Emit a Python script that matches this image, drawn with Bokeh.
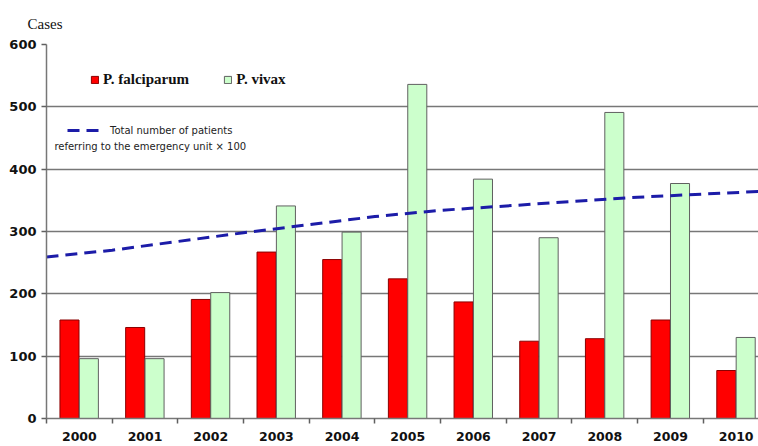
import numpy as np
from bokeh.plotting import figure
from bokeh.models import Range1d, FixedTicker, Legend, LegendItem, Label
from bokeh.embed import file_html
from bokeh.resources import INLINE

years = ["2000", "2001", "2002", "2003", "2004", "2005", "2006", "2007", "2008", "2009", "2010"]
falciparum = [158, 146, 191, 267, 255, 224, 187, 124, 128, 158, 77]
vivax = [96, 96, 202, 341, 299, 536, 384, 290, 491, 377, 130]
# total patients referring to emergency unit (x100), read at year boundaries 2000..2011
patients_x100 = [259, 270, 284, 298, 311, 324, 334, 341, 348, 355, 360, 365]
y_ticks = [0, 100, 200, 300, 400, 500, 600]

n = len(years)
idx = np.arange(n)

p = figure(width=758, height=446, output_backend="svg", toolbar_location=None,
           x_range=Range1d(0, 10.84), y_range=Range1d(0, 600),
           min_border_left=46, min_border_right=0, min_border_top=44, min_border_bottom=28)
p.outline_line_color = None
p.background_fill_color = "white"
p.border_fill_color = "white"

p.title.text = "Cases"
p.title.align = "left"
p.title.offset = -19
p.title.standoff = 26
p.title.text_font = "Liberation Serif"
p.title.text_font_style = "normal"
p.title.text_font_size = "15px"
p.title.text_color = "#111111"

# bars
r_f = p.vbar(x=idx + 0.35, top=falciparum, width=0.29, fill_color="#FF0000",
             line_color="#8B0000", line_width=1)
r_v = p.vbar(x=idx + 0.645, top=vivax, width=0.29, fill_color="#CCFFCC",
             line_color="#606060", line_width=1)

# dashed line
r_l = p.line(x=np.arange(len(patients_x100)), y=patients_x100, line_color="#1C1CA8",
             line_width=3, line_dash="12 7")

# axes
xa = p.xaxis[0]
xa.ticker = FixedTicker(ticks=list(idx + 0.5), minor_ticks=list(range(n + 1)))
xa.major_label_overrides = {float(i + 0.5): y for i, y in enumerate(years)}
xa.major_tick_out = 0
xa.major_tick_in = 0
xa.minor_tick_out = 5
xa.minor_tick_in = 0
xa.minor_tick_line_color = "#606060"
xa.minor_tick_line_width = 1.5
xa.axis_line_color = "#777777"
xa.axis_line_width = 1.5
xa.major_label_text_font = "DejaVu Sans"
xa.major_label_text_font_style = "bold"
xa.major_label_text_font_size = "12.5px"
xa.major_label_text_color = "#111111"
xa.major_label_standoff = 8

ya = p.yaxis[0]
ya.ticker = FixedTicker(ticks=y_ticks)
ya.minor_tick_out = 0
ya.minor_tick_in = 0
ya.major_tick_out = 5
ya.major_tick_in = 0
ya.major_tick_line_color = "#606060"
ya.major_tick_line_width = 1.5
ya.axis_line_color = "#777777"
ya.axis_line_width = 1.5
ya.major_label_text_font = "DejaVu Sans"
ya.major_label_text_font_style = "bold"
ya.major_label_text_font_size = "13px"
ya.major_label_text_color = "#111111"
ya.major_label_standoff = 5

p.xgrid.grid_line_color = None
p.ygrid.ticker = FixedTicker(ticks=y_ticks)
p.ygrid.grid_line_color = "#777777"
p.ygrid.grid_line_width = 1.5

# legends
leg1 = Legend(items=[LegendItem(label="P. falciparum", renderers=[r_f]),
                     LegendItem(label="P. vivax", renderers=[r_v])],
              orientation="horizontal", location=(44, 330),
              glyph_width=9, glyph_height=9, label_height=12, label_standoff=4,
              spacing=34, padding=0, margin=0,
              label_text_font="Liberation Serif", label_text_font_style="bold",
              label_text_font_size="15px", label_text_color="#111111",
              border_line_color=None, background_fill_alpha=0)
p.add_layout(leg1, "center")

leg2 = Legend(items=[LegendItem(label="Total number of patients", renderers=[r_l])],
              location=(21, 282), glyph_width=33, glyph_height=10, label_height=12,
              label_standoff=10, padding=0, margin=0,
              label_text_font="DejaVu Sans", label_text_font_size="10px",
              label_text_color="#222222",
              border_line_color=None, background_fill_alpha=0)
p.add_layout(leg2, "center")

p.add_layout(Label(x=0.12, y=436, text="referring to the emergency unit \u00d7 100",
                   text_font="DejaVu Sans", text_font_size="10px", text_color="#222222",
                   text_baseline="middle"))

open("out.html", "w").write(file_html(p, INLINE))
